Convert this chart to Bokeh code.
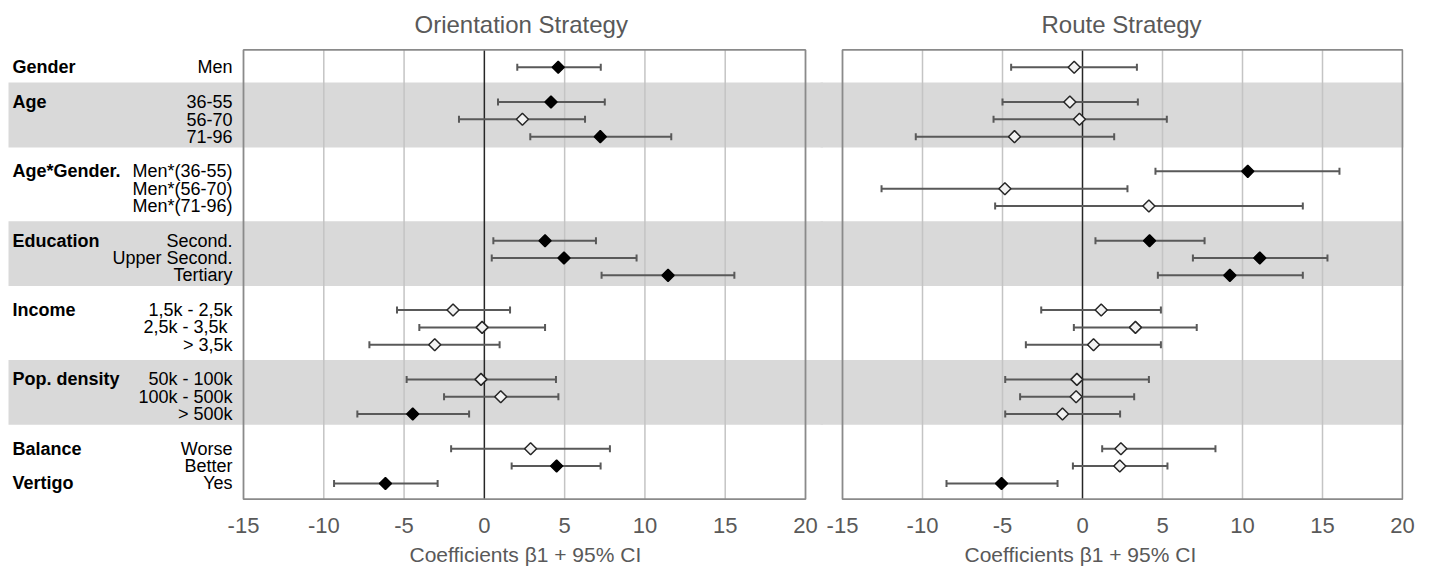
import numpy as np
from bokeh.plotting import figure
from bokeh.models import ColumnDataSource, FixedTicker, Range1d, Title
from bokeh.layouts import row
from bokeh.embed import file_html
from bokeh.resources import INLINE
from bokeh.core.properties import value

# ---------------- data ----------------
levels = ["Men", "36-55", "56-70", "71-96", "Men*(36-55)", "Men*(56-70)", "Men*(71-96)",
          "Second.", "Upper Second.", "Tertiary", "1,5k - 2,5k", "2,5k - 3,5k ", "> 3,5k",
          "50k - 100k", "100k - 500k", "> 500k", "Worse", "Better", "Yes"]
level_group = ["Gender", "Age", "Age", "Age", "Age*Gender.", "Age*Gender.", "Age*Gender.",
               "Education", "Education", "Education", "Income", "Income", "Income",
               "Pop. density", "Pop. density", "Pop. density", "Balance", "Balance", "Vertigo"]
groups = ["Gender", "Age", "Age*Gender.", "Education", "Income", "Pop. density", "Balance", "Vertigo"]
group_block = [0, 1, 2, 3, 4, 5, 6, 6]
shaded_blocks = [1, 3, 5]

orient_coef = [4.6, 4.15, 2.37, 7.22, None, None, None, 3.78, 4.96, 11.44,
               -1.95, -0.14, -3.09, -0.21, 1.02, -4.46, 2.88, 4.5, -6.16]
orient_lo = [2.05, 0.85, -1.58, 2.86, None, None, None, 0.56, 0.46, 7.3,
             -5.44, -4.05, -7.16, -4.84, -2.51, -7.91, -2.07, 1.7, -9.36]
orient_hi = [7.25, 7.5, 6.27, 11.64, None, None, None, 6.95, 9.48, 15.57,
             1.6, 3.78, 0.95, 4.46, 4.61, -0.95, 7.82, 7.24, -2.91]
orient_sig = [1, 1, 0, 1, None, None, None, 1, 1, 1, 0, 0, 0, 0, 0, 1, 0, 1, 1]

route_coef = [-0.52, -0.79, -0.19, -4.25, 10.33, -4.85, 4.15, 4.19, 11.08, 9.21,
              1.17, 3.31, 0.69, -0.35, -0.4, -1.25, 2.4, 2.33, -5.06]
route_lo = [-4.46, -5.0, -5.56, -10.42, 4.56, -12.56, -5.46, 0.81, 6.9, 4.71,
            -2.58, -0.54, -3.54, -4.83, -3.9, -4.83, 1.23, -0.6, -8.5]
route_hi = [3.4, 3.46, 5.27, 1.98, 16.06, 2.81, 13.77, 7.63, 15.31, 13.77,
            4.9, 7.14, 4.9, 4.15, 3.23, 2.35, 8.31, 5.31, -1.56]
route_sig = [0, 0, 0, 0, 1, 0, 0, 1, 1, 1, 0, 0, 0, 0, 0, 0, 0, 0, 1]

x_ticks = [-15, -10, -5, 0, 5, 10, 15, 20]
titles = ["Orientation Strategy", "Route Strategy"]
x_label = "Coefficients \u03b21 + 95% CI"

# ---------------- layout helpers ----------------
FONT_NAME = "Liberation Sans"
FONT = value(FONT_NAME)
GREY_TXT = "#595959"
blk = {g: b for g, b in zip(groups, group_block)}
row_y = [i + blk[g] for i, g in enumerate(level_group)]
BOX_TOP, BOX_BOT = -1.0, 24.91


def band_extent(b):
    ys = [y for y, g in zip(row_y, level_group) if blk[g] == b]
    return min(ys) - 1.12, max(ys) + 0.62


def make_panel(x_range, frame_width, mbl, mbr, title, t_off, l_off, coef, lo, hi, sig):
    p = figure(frame_width=frame_width, frame_height=454, x_range=x_range,
               y_range=Range1d(24.985, -1.2), min_border_left=mbl, min_border_right=mbr,
               min_border_top=46, min_border_bottom=0, output_backend="svg",
               toolbar_location=None, y_axis_location=None)
    p.outline_line_color = None
    p.xgrid.visible = False
    p.ygrid.visible = False
    p.background_fill_color = "white"
    p.border_fill_color = "white"

    # shaded row bands, reaching a little past both frame edges
    ext = (x_range.end - x_range.start) * 0.05
    tb = [band_extent(b) for b in shaded_blocks]
    p.quad(left=[x_range.start - ext] * len(tb), right=[x_range.end + ext] * len(tb),
           top=[t for t, _ in tb], bottom=[b for _, b in tb],
           fill_color="#d9d9d9", line_color=None, level="image")

    gx = [t for t in x_ticks if t not in (0, x_ticks[0], x_ticks[-1])]
    p.segment(x0=gx, x1=gx, y0=[BOX_TOP] * len(gx), y1=[BOX_BOT] * len(gx),
              line_color="#c4c4c4", line_width=1.5)
    p.segment(x0=[0], x1=[0], y0=[BOX_TOP], y1=[BOX_BOT], line_color="#262626", line_width=1.5)
    p.quad(left=[x_ticks[0]], right=[x_ticks[-1]], top=[BOX_TOP], bottom=[BOX_BOT],
           fill_color=None, line_color="#8a8a8a", line_width=1.8)

    keep = [i for i, c in enumerate(coef) if c is not None]
    src = ColumnDataSource(dict(
        y=[row_y[i] for i in keep], c=[coef[i] for i in keep],
        lo=[lo[i] for i in keep], hi=[hi[i] for i in keep],
        fill=["#000000" if sig[i] else "#f2f2f2" for i in keep],
        line=["#000000" if sig[i] else "#262626" for i in keep]))
    p.segment(x0="lo", x1="hi", y0="y", y1="y", source=src, line_color=GREY_TXT, line_width=2)
    p.scatter(x="lo", y="y", source=src, marker="dash", angle=np.pi / 2, size=7,
              line_color=GREY_TXT, line_width=2)
    p.scatter(x="hi", y="y", source=src, marker="dash", angle=np.pi / 2, size=7,
              line_color=GREY_TXT, line_width=2)
    p.scatter(x="c", y="y", source=src, marker="square", angle=np.pi / 4, size=8.5,
              fill_color="fill", line_color="line", line_width=1.5)

    ax = p.xaxis[0]
    ax.ticker = FixedTicker(ticks=x_ticks)
    ax.major_label_overrides = {t: str(t) for t in x_ticks}
    ax.bounds = (x_ticks[0], x_ticks[-1])
    ax.axis_line_color = None
    ax.major_tick_line_color = None
    ax.minor_tick_line_color = None
    ax.major_label_standoff = 11
    ax.major_label_text_font = FONT_NAME
    ax.major_label_text_font_size = "22px"
    ax.major_label_text_color = GREY_TXT

    p.add_layout(Title(text=title, align="left", offset=t_off, text_font=FONT_NAME,
                       text_font_size="24px", text_font_style="normal",
                       text_color=GREY_TXT, standoff=17), "above")
    p.add_layout(Title(text=x_label, align="left", offset=l_off, text_font=FONT_NAME,
                       text_font_size="21px", text_font_style="normal",
                       text_color=GREY_TXT, standoff=10), "below")
    return p


# left panel: frame also covers the label column (px/unit = 562/35)
sc = 562 / 35.0
p1 = make_panel(Range1d(-15 - 235 / sc, 20 + 18 / sc), 815, 8, 0, titles[0], 406, 401,
                orient_coef, orient_lo, orient_hi, orient_sig)
# right panel overlaps the left one by 3 px and is transparent,
# so that the shaded bands join without a seam
p2 = make_panel(Range1d(-15 - 22 / 16.0, 20 + 1 / 16.0), 583, 0, 13, titles[1], 221, 144,
                route_coef, route_lo, route_hi, route_sig)
p2.margin = (0, 0, 0, -3)
p2.border_fill_color = None
p2.background_fill_color = None

# row labels in the left panel
p1.text(x=[x_ticks[0]] * len(levels), y=row_y, text=levels, x_offset=-11,
        text_align="right", text_baseline="middle", text_font=FONT,
        text_font_size="18px", text_color="#000000")
first_y = [row_y[level_group.index(g)] for g in groups]
p1.text(x=[x_ticks[0]] * len(groups), y=first_y, text=groups, x_offset=-231,
        text_align="left", text_baseline="middle", text_font=FONT,
        text_font_size="18px", text_font_style="bold", text_color="#000000")

layout = row(p1, p2)
open("out.html", "w").write(file_html(layout, INLINE))
